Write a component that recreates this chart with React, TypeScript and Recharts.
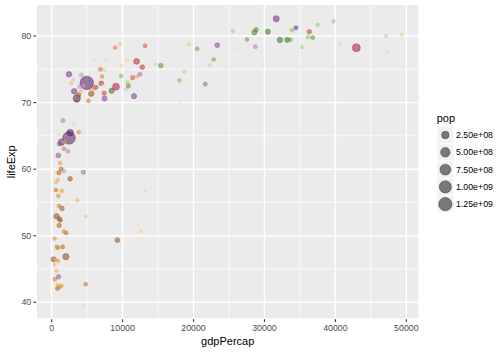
import React from 'react';
import { ScatterChart, Scatter, XAxis, YAxis, CartesianGrid } from 'recharts';

const FONT = '"Liberation Sans", Arial, Helvetica, sans-serif';

// ---- data (gapminder, year 2007) ----
const country = [
  'Afghanistan','Albania','Algeria','Angola','Argentina','Australia','Austria','Bahrain','Bangladesh','Belgium',
  'Benin','Bolivia','Bosnia and Herzegovina','Botswana','Brazil','Bulgaria','Burkina Faso','Burundi','Cambodia','Cameroon',
  'Canada','Central African Republic','Chad','Chile','China','Colombia','Comoros','Congo, Dem. Rep.','Congo, Rep.','Costa Rica',
  "Cote d'Ivoire",'Croatia','Cuba','Czech Republic','Denmark','Djibouti','Dominican Republic','Ecuador','Egypt','El Salvador',
  'Equatorial Guinea','Eritrea','Ethiopia','Finland','France','Gabon','Gambia','Germany','Ghana','Greece',
  'Guatemala','Guinea','Guinea-Bissau','Haiti','Honduras','Hong Kong, China','Hungary','Iceland','India','Indonesia',
  'Iran','Iraq','Ireland','Israel','Italy','Jamaica','Japan','Jordan','Kenya','Korea, Dem. Rep.',
  'Korea, Rep.','Kuwait','Lebanon','Lesotho','Liberia','Libya','Madagascar','Malawi','Malaysia','Mali',
  'Mauritania','Mauritius','Mexico','Mongolia','Montenegro','Morocco','Mozambique','Myanmar','Namibia','Nepal',
  'Netherlands','New Zealand','Nicaragua','Niger','Nigeria','Norway','Oman','Pakistan','Panama','Paraguay',
  'Peru','Philippines','Poland','Portugal','Puerto Rico','Reunion','Romania','Rwanda','Sao Tome and Principe','Saudi Arabia',
  'Senegal','Serbia','Sierra Leone','Singapore','Slovak Republic','Slovenia','Somalia','South Africa','Spain','Sri Lanka',
  'Sudan','Swaziland','Sweden','Switzerland','Syria','Taiwan','Tanzania','Thailand','Togo','Trinidad and Tobago',
  'Tunisia','Turkey','Uganda','United Kingdom','United States','Uruguay','Venezuela','Vietnam','West Bank and Gaza','Yemen, Rep.',
  'Zambia','Zimbabwe',
];

const continent = [
  'Asia','Europe','Africa','Africa','Americas','Oceania','Europe','Asia','Asia','Europe',
  'Africa','Americas','Europe','Africa','Americas','Europe','Africa','Africa','Asia','Africa',
  'Americas','Africa','Africa','Americas','Asia','Americas','Africa','Africa','Africa','Americas',
  'Africa','Europe','Americas','Europe','Europe','Africa','Americas','Americas','Africa','Americas',
  'Africa','Africa','Africa','Europe','Europe','Africa','Africa','Europe','Africa','Europe',
  'Americas','Africa','Africa','Americas','Americas','Asia','Europe','Europe','Asia','Asia',
  'Asia','Asia','Europe','Asia','Europe','Americas','Asia','Asia','Africa','Asia',
  'Asia','Asia','Asia','Africa','Africa','Africa','Africa','Africa','Asia','Africa',
  'Africa','Africa','Americas','Asia','Europe','Africa','Africa','Asia','Africa','Asia',
  'Europe','Oceania','Americas','Africa','Africa','Europe','Asia','Asia','Americas','Americas',
  'Americas','Asia','Europe','Europe','Americas','Africa','Europe','Africa','Africa','Asia',
  'Africa','Europe','Africa','Asia','Europe','Europe','Africa','Africa','Europe','Asia',
  'Africa','Africa','Europe','Europe','Asia','Asia','Africa','Asia','Africa','Americas',
  'Africa','Europe','Africa','Europe','Americas','Americas','Americas','Asia','Asia','Asia',
  'Africa','Africa',
];

const lifeExp = [
  43.828,76.423,72.301,42.731,75.32,81.235,79.829,75.635,64.062,79.441,
  56.728,65.554,74.852,50.728,72.39,73.005,52.295,49.58,59.723,50.43,
  80.653,44.741,50.651,78.553,72.961,72.889,65.152,46.462,55.322,78.782,
  48.328,75.748,78.273,76.486,78.332,54.791,72.235,74.994,71.338,71.878,
  51.579,58.04,52.947,79.313,80.657,56.735,59.448,79.406,60.022,79.483,
  70.259,56.007,46.388,60.916,70.198,82.208,73.338,81.757,64.698,70.65,
  70.964,59.545,78.885,80.745,80.546,72.567,82.603,72.535,54.11,67.297,
  78.623,77.588,71.993,42.592,45.678,73.952,59.443,48.303,74.241,54.467,
  64.164,72.801,76.195,66.803,74.543,71.164,42.082,62.069,52.906,63.785,
  79.762,80.204,72.899,56.867,46.859,80.196,75.64,65.483,75.537,71.752,
  71.421,71.688,75.563,78.098,78.746,76.442,72.476,46.242,65.528,72.777,
  63.062,74.002,42.568,79.972,74.663,77.926,48.159,49.339,80.941,72.396,
  58.556,39.613,80.884,81.701,74.143,78.4,52.517,70.616,58.42,69.819,
  73.923,71.777,51.542,79.425,78.242,76.384,73.747,74.249,73.422,62.698,
  42.384,43.487,
];

const pop = [
  31889923,3600523,33333216,12420476,40301927,20434176,8199783,708573,150448339,10392226,
  8078314,9119152,4552198,1639131,190010647,7322858,14326203,8390505,14131858,17696293,
  33390141,4369038,10238807,16284741,1318683096,44227550,710960,64606759,3800610,4133884,
  18013409,4493312,11416987,10228744,5468120,496374,9319622,13755680,80264543,6939688,
  551201,4906585,76511887,5238460,61083916,1454867,1688359,82400996,22873338,10706290,
  12572928,9947814,1472041,8502814,7483763,6980412,9956108,301931,1110396331,223547000,
  69453570,27499638,4109086,6426679,58147733,2780132,127467972,6053193,35610177,23301725,
  49044790,2505559,3921278,2012649,3193942,6036914,19167654,13327079,24821286,12031795,
  3270065,1250882,108700891,2874127,684736,33757175,19951656,47761980,2055080,28901790,
  16570613,4115771,5675356,12894865,135031164,4627926,3204897,169270617,3242173,6667147,
  28674757,91077287,38518241,10642836,3942491,798094,22276056,8860588,199579,27601038,
  12267493,10150265,6144562,4553009,5447502,2009245,9118773,43997828,40448191,20378239,
  42292929,1133066,9031088,7554661,19314747,23174294,38139640,65068149,5701579,1056608,
  10276158,71158647,29170398,60776238,301139947,3447496,26084662,85262356,4018332,22211743,
  11746035,12311143,
];

const gdpPercap = [
  974.5803,5937.0295,6223.3675,4797.2313,12779.3796,34435.3674,36126.4927,29796.0483,1391.2538,33692.6051,
  1441.2849,3822.1371,7446.2988,12569.8518,9065.8008,10680.7928,1217.033,430.0707,1713.7787,2042.0952,
  36319.235,706.0165,1704.0637,13171.6388,4959.1149,7006.5804,986.1479,277.5519,3632.5578,9645.0614,
  1544.7501,14619.2227,8948.1029,22833.3085,35278.4187,2082.4816,6025.3748,6873.2623,5581.181,5728.3535,
  12154.0897,641.3695,690.8056,33207.0844,30470.0167,13206.4845,752.7497,32170.3744,1327.6089,27538.4119,
  5186.05,942.6542,579.2317,1201.6372,3548.3308,39724.9787,18008.9444,36180.7892,2452.2104,3540.6516,
  11605.7145,4471.0619,40675.9964,25523.2771,28569.7197,7320.8803,31656.0681,4519.4612,1463.2493,1593.065,
  23348.1397,47306.9898,10461.0587,1569.3314,414.5073,12057.4993,1044.7701,759.3499,12451.6558,1042.5816,
  1803.1515,10956.9911,11977.575,3095.7723,9253.8961,3820.1752,823.6856,944,4811.0604,1091.3598,
  36797.9333,25185.0091,2749.321,619.6769,2013.9773,49357.1902,22316.1929,2605.9476,9809.1856,4172.8385,
  7408.9056,3190.481,15389.9247,20509.6478,19328.709,7670.1226,10808.4756,863.0885,1598.4351,21654.8319,
  1712.4721,9786.5347,862.5408,47143.1796,18678.3144,25768.2576,926.1411,9269.6578,28821.0637,3970.0954,
  2602.395,4513.4806,33859.7484,37506.4191,4184.5481,28718.2768,1107.4822,7458.3963,882.9699,18008.5092,
  7092.923,8458.2764,1056.3801,33203.2613,42951.6531,10611.463,11415.8057,2441.5764,3025.3498,2280.7699,
  1271.2116,469.7093,
];

const xTicks = [0, 10000, 20000, 30000, 40000, 50000];
const xMinorTicks = [5000, 15000, 25000, 35000, 45000];
const yTicks = [40, 50, 60, 70, 80];
const yMinorTicks = [45, 55, 65, 75];
const legendBreaks = [2.5e8, 5e8, 7.5e8, 1e9, 1.25e9];
const legendLabels = ['2.50e+08', '5.00e+08', '7.50e+08', '1.00e+09', '1.25e+09'];

// ---- scales (ggplot-like) ----
const expand = (lo: number, hi: number) => {
  const d = (hi - lo) * 0.05;
  return [lo - d, hi + d];
};
const xDomain = expand(Math.min(...gdpPercap), Math.max(...gdpPercap));
const yDomain = expand(Math.min(...lifeExp), Math.max(...lifeExp));

const popMin = Math.min(...pop);
const popMax = Math.max(...pop);
const sizeOf = (p: number) => 1 + 5 * Math.sqrt(Math.max(0, (p - popMin) / (popMax - popMin)));
const radiusOf = (p: number) => 0.375 * (2.845276 * sizeOf(p) + 0.944882);

// continent palettes (country colours shaded by population rank)
const PAL: Record<string, string[]> = {
  Africa: ['#7F3B08', '#B35806', '#E08214', '#FDB863', '#FEE0B6'],
  Americas: ['#A50026', '#D73027', '#F46D43', '#FDAE61', '#FEE090'],
  Asia: ['#40004B', '#762A83', '#9970AB', '#C2A5CF', '#E7D4E8'],
  Europe: ['#276419', '#4D9221', '#7FBC41', '#B8E186', '#E6F5D0'],
  Oceania: ['#313695', '#4575B4', '#74ADD1', '#ABD9E9', '#E0F3F8'],
};
const hex2rgb = (h: string) => [1, 3, 5].map((i) => parseInt(h.slice(i, i + 2), 16));
const ramp = (cols: string[], n: number) => {
  const rgb = cols.map(hex2rgb);
  const out: string[] = [];
  for (let i = 0; i < n; i++) {
    const t = n === 1 ? 0 : (i / (n - 1)) * (rgb.length - 1);
    const k = Math.min(Math.floor(t), rgb.length - 2);
    const f = t - k;
    const c = rgb[k].map((v, j) => Math.round(v + (rgb[k + 1][j] - v) * f));
    out.push('#' + c.map((v) => v.toString(16).padStart(2, '0')).join(''));
  }
  return out;
};
const colorOf: Record<string, string> = {};
Object.keys(PAL).forEach((cont) => {
  const idx = country.map((_, i) => i).filter((i) => continent[i] === cont);
  idx.sort((a, b) => pop[b] - pop[a]);
  const cols = ramp(PAL[cont], idx.length);
  idx.forEach((i, r) => {
    colorOf[country[i]] = cols[r];
  });
});

const data = country.map((c, i) => ({
  country: c,
  continent: continent[i],
  gdpPercap: gdpPercap[i],
  lifeExp: lifeExp[i],
  pop: pop[i],
  color: colorOf[c],
}));

// ---- layout ----
const W = 504;
const H = 352;
const PLOT_L = 36.2;
const PLOT_R = 419.2;
const PLOT_T = 4.4;
const PLOT_B = 319.2;

const Dot = (props: any) => {
  const { cx, cy, payload } = props;
  if (cx == null || cy == null) return null;
  return (
    <circle
      cx={cx}
      cy={cy}
      r={radiusOf(payload.pop)}
      fill={payload.color}
      fillOpacity={0.5}
      stroke={payload.color}
      strokeOpacity={0.5}
      strokeWidth={0.71}
    />
  );
};

const XTick = (props: any) => {
  const { x, y, payload } = props;
  return (
    <text x={x} y={y + 8.8} textAnchor="middle" fontSize={8.8} fill="#4D4D4D" fontFamily={FONT}>
      {String(payload.value)}
    </text>
  );
};

const YTick = (props: any) => {
  const { x, y, payload } = props;
  return (
    <text x={x - 2.2} y={y + 3.15} textAnchor="end" fontSize={8.8} fill="#4D4D4D" fontFamily={FONT}>
      {String(payload.value)}
    </text>
  );
};

const keyTop = 126.4;
const keySize = 17.28;
const keyX = 436.7;

export default function App() {
  return (
    <div style={{ position: 'absolute', left: 0, top: 0, width: W, height: H, background: '#FFFFFF' }}>
      <ScatterChart
        width={W}
        height={H}
        margin={{ top: PLOT_T, right: W - PLOT_R, bottom: 0, left: 0 }}
      >
        <XAxis
          xAxisId="minor"
          type="number"
          dataKey="gdpPercap"
          domain={xDomain}
          ticks={xMinorTicks}
          allowDataOverflow
          hide
        />
        <YAxis
          yAxisId="minor"
          type="number"
          dataKey="lifeExp"
          domain={yDomain}
          ticks={yMinorTicks}
          allowDataOverflow
          hide
        />
        <CartesianGrid
          xAxisId="minor"
          yAxisId="minor"
          fill="#EBEBEB"
          fillOpacity={1}
          stroke="#FFFFFF"
          strokeWidth={0.71}
        />
        <CartesianGrid stroke="#FFFFFF" strokeWidth={1.42} />
        <XAxis
          type="number"
          dataKey="gdpPercap"
          domain={xDomain}
          ticks={xTicks}
          allowDataOverflow
          height={H - PLOT_B}
          axisLine={false}
          tickLine={{ stroke: '#333333', strokeWidth: 1.1 }}
          tickSize={2.75}
          tickMargin={0}
          tick={<XTick />}
          interval={0}
        />
        <YAxis
          type="number"
          dataKey="lifeExp"
          domain={yDomain}
          ticks={yTicks}
          allowDataOverflow
          width={PLOT_L}
          axisLine={false}
          tickLine={{ stroke: '#333333', strokeWidth: 1.1 }}
          tickSize={2.75}
          tickMargin={0}
          tick={<YTick />}
          interval={0}
        />
        <Scatter data={data} shape={<Dot />} isAnimationActive={false} />
      </ScatterChart>
      <svg
        width={W}
        height={H}
        style={{ position: 'absolute', left: 0, top: 0, pointerEvents: 'none' }}
        fontFamily={FONT}
      >
        <text x={(PLOT_L + PLOT_R) / 2} y={344.5} textAnchor="middle" fontSize={11} fill="#000000">
          gdpPercap
        </text>
        <text
          x={15.5}
          y={(PLOT_T + PLOT_B) / 2}
          textAnchor="middle"
          fontSize={11}
          fill="#000000"
          transform={`rotate(-90 15.5 ${(PLOT_T + PLOT_B) / 2})`}
        >
          lifeExp
        </text>
        <text x={keyX} y={121.5} fontSize={11} fill="#000000">
          pop
        </text>
        {legendBreaks.map((b, i) => {
          const y0 = keyTop + i * keySize;
          const cy = y0 + keySize / 2;
          return (
            <g key={b}>
              <rect x={keyX} y={y0} width={keySize} height={keySize} fill="#F2F2F2" stroke="#FFFFFF" strokeWidth={1} />
              <circle
                cx={keyX + keySize / 2}
                cy={cy}
                r={radiusOf(b)}
                fill="#000000"
                fillOpacity={0.5}
                stroke="#000000"
                strokeOpacity={0.5}
                strokeWidth={0.71}
              />
              <text x={456} y={cy + 3.15} fontSize={8.8} fill="#000000">
                {legendLabels[i]}
              </text>
            </g>
          );
        })}
      </svg>
    </div>
  );
}
